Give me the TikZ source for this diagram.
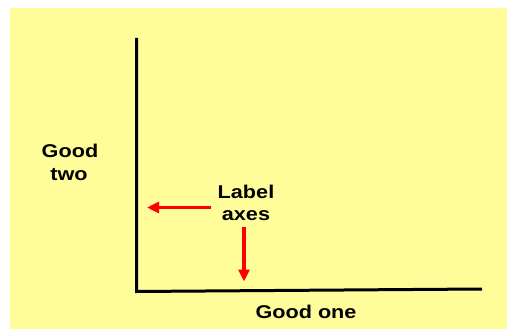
\documentclass[tikz,border=0pt]{standalone}
\usepackage{fontspec}
\setmainfont{Liberation Sans}
\usetikzlibrary{arrows.meta}
\definecolor{bgyellow}{HTML}{FFFD99}
\definecolor{arrowred}{HTML}{FF0000}
\tikzset{
  lbl/.style={font=\bfseries\fontsize{18.5}{22}\selectfont, inner sep=0pt, anchor=base, text=black},
  axisline/.style={line width=3pt, black, line join=miter},
  redarrow/.style={line width=3.5pt, arrowred, -{Triangle[length=12pt,width=11pt]}}
}
\newcommand{\wide}[1]{\scalebox{1.17}[1]{#1}}
\begin{document}
\begin{tikzpicture}[x=1pt,y=-1pt]
\useasboundingbox (0,0) rectangle (507,329);
\fill[white] (0,0) rectangle (507,329);
\fill[bgyellow] (10,8) rectangle (507,329);
% axes
\coordinate (ytop) at (136.5,38);
\coordinate (orig) at (136.5,291.5);
\coordinate (xend) at (482,289);
\draw[axisline] (ytop) -- (orig) -- (xend);
% labels
\node[lbl] (good) at (70,158) {\wide{Good}};
\node[lbl] (two) at (69,180) {\wide{two}};
\node[lbl] (label) at (246,198) {\wide{Label}};
\node[lbl] (axes) at (246,220.5) {\wide{axes}};
\node[lbl] (goodone) at (306,318) {\wide{Good one}};
% arrows
\coordinate (lstart) at (211,207.5);
\coordinate (ltip) at (147,207.5);
\coordinate (dstart) at (244,227);
\coordinate (dtip) at (244,281.5);
\draw[redarrow] (lstart) -- (ltip);
\draw[redarrow] (dstart) -- (dtip);
\end{tikzpicture}
\end{document}
